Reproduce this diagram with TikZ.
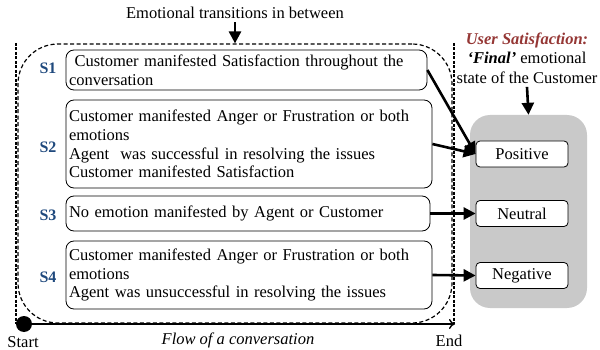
\documentclass[tikz,border=0pt]{standalone}
\usepackage{fontspec}
\setmainfont{Liberation Serif}
\usepackage{tikz}
\usetikzlibrary{arrows.meta}
\definecolor{slabel}{RGB}{31,73,125}
\definecolor{satred}{RGB}{149,55,53}
\definecolor{finalgray}{RGB}{201,201,201}
\tikzset{sbox/.style = {draw, rounded corners=8pt, align=left, inner xsep=3pt, inner ysep=0pt, line width=0.8pt}}
\tikzset{slab/.style = {text=slabel, font=\fontsize{16}{18}\selectfont\bfseries}}
\tikzset{state/.style = {draw, fill=white, rounded corners=4pt, minimum width=92pt, minimum height=26pt, line width=0.8pt}}
\tikzset{edge/.style = {-{Triangle[length=12pt,width=12pt]}, line width=2.6pt}}

\begin{document}
\begin{tikzpicture}[x=1pt,y=-1pt,font=\fontsize{16.5}{18.7}\selectfont]
		\useasboundingbox (0,0) rectangle (600,350);
		% regions
		\node[fill=finalgray, rounded corners=20pt, minimum width=117pt, minimum height=193pt] (final) at (528.5,211.5) {};
		\node[draw, dashed, line width=1.2pt, rounded corners=40pt, minimum width=434pt, minimum height=279pt, dash pattern=on 4pt off 2.5pt] (trans) at (235,183.5) {};
		\draw[line width=1.2pt, dash pattern=on 3pt off 1.5pt] (16,43) -- (16,324);
		\draw[line width=1.2pt, dash pattern=on 3pt off 1.5pt] (454,43) -- (454,324);

		% titles
		\node (title) at (235,13) {Emotional transitions in between};
		\node[align=center, font=\fontsize{16.5}{19.5}\selectfont] (usersat) at (527,58) {\textcolor{satred}{\textbf{\textit{User Satisfaction:}}}\\\textbf{\textit{`Final'}} emotional\\state of the Customer};

		% scenarios
		\node[slab] (l1) at (48,68) {S1};
		\node[slab] (l2) at (48,147) {S2};
		\node[slab] (l3) at (48,215) {S3};
		\node[slab] (l4) at (48,277) {S4};
		\node[sbox, text width=355pt, minimum height=40pt] (s1) at (246.5,70) {~Customer manifested Satisfaction throughout the\\conversation};
		\node[sbox, text width=360pt, minimum height=88pt] (s2) at (249,144) {Customer manifested Anger or Frustration or both\\emotions\\Agent\ \ was successful in resolving the issues\\Customer manifested Satisfaction};
		\node[sbox, text width=358pt, minimum height=35pt] (s3) at (248,213.5) {No emotion manifested by Agent or Customer};
		\node[sbox, text width=360pt, minimum height=68pt] (s4) at (249,275) {Customer manifested Anger or Frustration or both\\emotions\\Agent was unsuccessful in resolving the issues};

		% final states
		\node[state] (pos) at (522,154) {Positive};
		\node[state] (neu) at (522,213.5) {Neutral};
		\node[state] (neg) at (522,275.5) {Negative};

		% flow axis
		\node[circle, fill, minimum size=16pt, inner sep=0pt] (start) at (24,324) {};
		\coordinate (end) at (455,324);
		\node (starttxt) at (23,342) {Start};
		\node (endtxt) at (449,341) {End};
		\node (flow) at (238,340) {\itshape Flow of a conversation};
		\draw[-{To[length=6pt,width=10pt]}, line width=1.4pt] (start.center) -- (end);

		%edges
		\draw[edge] (title.south) -- (trans.north);
		\draw[edge] (usersat.south) -- (final.north);
		\draw[edge] (s1.east) -- (pos.west);
		\draw[edge] (s2.east) -- (pos.west);
		\draw[edge] (s3.east) -- (neu.west);
		\draw[edge] (s4.east) -- (neg.west);
	\end{tikzpicture}
\end{document}
